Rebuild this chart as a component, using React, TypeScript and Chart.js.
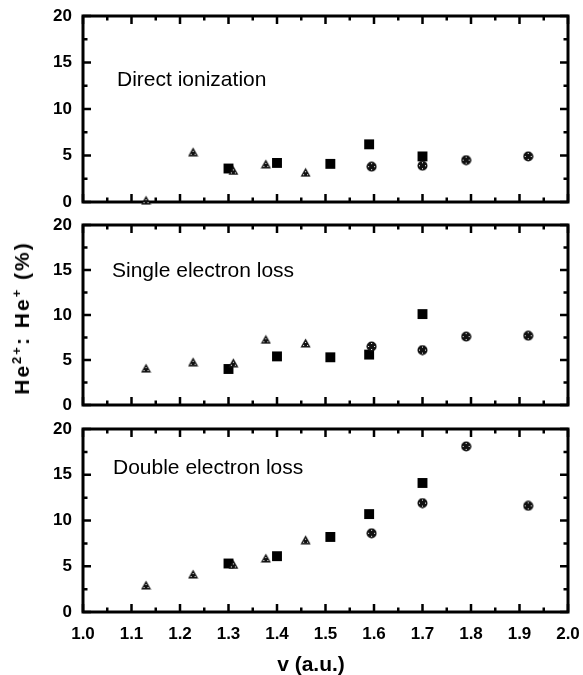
import React, { useEffect, useRef } from "react";
import { Chart, registerables } from "chart.js";

Chart.register(...registerables);

// ---- data ----
const panelTitles = ["Direct ionization", "Single electron loss", "Double electron loss"];

const xTickValues = [1.0, 1.1, 1.2, 1.3, 1.4, 1.5, 1.6, 1.7, 1.8, 1.9, 2.0];
const xTickLabels = ["1.0", "1.1", "1.2", "1.3", "1.4", "1.5", "1.6", "1.7", "1.8", "1.9", "2.0"];
const yTickValues = [0, 5, 10, 15, 20];
const yTickLabels = ["0", "5", "10", "15", "20"];

const squareX = [1.3, 1.4, 1.51, 1.59, 1.7];
const circleX = [1.595, 1.7, 1.79, 1.918];
const triangleX = [1.13, 1.227, 1.31, 1.377, 1.459];

const directSquares = [3.6, 4.2, 4.1, 6.2, 4.9];
const directCircles = [3.8, 3.9, 4.5, 4.9];
const directTriangles = [0.2, 5.4, 3.4, 4.1, 3.2];

const singleSquares = [4.0, 5.4, 5.3, 5.6, 10.1];
const singleCircles = [6.5, 6.1, 7.6, 7.7];
const singleTriangles = [4.1, 4.8, 4.7, 7.3, 6.9];

const doubleSquares = [5.3, 6.1, 8.2, 10.7, 14.1];
const doubleCircles = [8.6, 11.9, 18.1, 11.6];
const doubleTriangles = [2.95, 4.15, 5.2, 5.9, 7.9];

const panelSquares = [directSquares, singleSquares, doubleSquares];
const panelCircles = [directCircles, singleCircles, doubleCircles];
const panelTriangles = [directTriangles, singleTriangles, doubleTriangles];

// ---- layout (styles) ----
const FONT = "'Liberation Sans', Arial, sans-serif";
const W = 583;
const panelLayout = [
  { top: 0, height: 215, padTop: 16, padBottom: 13, showX: false, labelDx: 34, labelDy: 64 },
  { top: 210, height: 210, padTop: 15, padBottom: 15, showX: false, labelDx: 29, labelDy: 46 },
  { top: 415, height: 260, padTop: 14, padBottom: 0, showX: true, labelDx: 30, labelDy: 39 },
];

function makeTriangle(): HTMLCanvasElement {
  const c = document.createElement("canvas");
  c.width = 11;
  c.height = 10;
  const g = c.getContext("2d")!;
  g.fillStyle = "#111";
  g.beginPath();
  g.moveTo(5.5, 0.5);
  g.lineTo(10.5, 9.5);
  g.lineTo(0.5, 9.5);
  g.closePath();
  g.fill();
  g.fillStyle = "#fff";
  g.fillRect(5, 4, 1, 1);
  g.fillRect(3, 7, 1, 1);
  g.fillRect(7, 7, 1, 1);
  return c;
}

function makeCircle(): HTMLCanvasElement {
  const c = document.createElement("canvas");
  c.width = 11;
  c.height = 11;
  const g = c.getContext("2d")!;
  g.fillStyle = "#111";
  g.beginPath();
  g.arc(5.5, 5.5, 5, 0, Math.PI * 2);
  g.fill();
  g.fillStyle = "#fff";
  g.fillRect(5, 2, 1, 1);
  g.fillRect(2, 5, 1, 1);
  g.fillRect(8, 5, 1, 1);
  g.fillRect(5, 8, 1, 1);
  return c;
}

const framePlugin = {
  id: "frameTicks",
  beforeDatasetsDraw(chart: any) {
    const { ctx, chartArea } = chart;
    const xs = chart.scales.x;
    const ys = chart.scales.y;
    const { left, right, top, bottom } = chartArea;
    ctx.save();
    ctx.strokeStyle = "#000";
    ctx.lineWidth = 2.5;
    const major = 8;
    const minor = 4.5;
    const drawX = (px: number, len: number) => {
      ctx.beginPath();
      ctx.moveTo(px, bottom);
      ctx.lineTo(px, bottom - len);
      ctx.moveTo(px, top);
      ctx.lineTo(px, top + len);
      ctx.stroke();
    };
    xTickValues.forEach((v, i) => {
      drawX(xs.getPixelForValue(v), major);
      if (i < xTickValues.length - 1) {
        drawX(xs.getPixelForValue((v + xTickValues[i + 1]) / 2), minor);
      }
    });
    const drawY = (py: number, len: number) => {
      ctx.beginPath();
      ctx.moveTo(left, py);
      ctx.lineTo(left + len, py);
      ctx.moveTo(right, py);
      ctx.lineTo(right - len, py);
      ctx.stroke();
    };
    yTickValues.forEach((v, i) => {
      drawY(ys.getPixelForValue(v), major);
      if (i < yTickValues.length - 1) {
        drawY(ys.getPixelForValue((v + yTickValues[i + 1]) / 2), minor);
      }
    });
    ctx.lineWidth = 3;
    ctx.strokeRect(left, top, right - left, bottom - top);
    ctx.restore();
  },
  afterDraw(chart: any) {
    const o = chart.options.plugins.frameTicks;
    if (!o) return;
    const { ctx, chartArea } = chart;
    ctx.save();
    ctx.fillStyle = "#000";
    ctx.font = `21px ${FONT}`;
    ctx.textBaseline = "middle";
    ctx.textAlign = "left";
    ctx.fillText(o.label, chartArea.left + o.dx, chartArea.top + o.dy);
    ctx.restore();
  },
};

function Panel({ index }: { index: number }) {
  const ref = useRef<HTMLCanvasElement>(null);
  const lay = panelLayout[index];
  useEffect(() => {
    const canvas = ref.current!;
    const tri = makeTriangle();
    const circ = makeCircle();
    const toPts = (xs: number[], ys: number[]) => xs.map((x, i) => ({ x, y: ys[i] }));
    const chart = new Chart(canvas, {
      type: "scatter",
      data: {
        datasets: [
          {
            data: toPts(triangleX, panelTriangles[index]),
            pointStyle: tri as any,
            clip: false as any,
          },
          {
            data: toPts(circleX, panelCircles[index]),
            pointStyle: circ as any,
            clip: false as any,
          },
          {
            data: toPts(squareX, panelSquares[index]),
            pointStyle: "rect",
            pointRadius: 7,
            backgroundColor: "#000",
            borderColor: "#000",
            borderWidth: 0,
            clip: false as any,
          },
        ],
      },
      options: {
        responsive: false,
        animation: false,
        events: [],
        layout: { padding: { top: lay.padTop, bottom: lay.padBottom, left: 0, right: W - 568 } },
        plugins: {
          legend: { display: false },
          tooltip: { enabled: false },
          frameTicks: { label: panelTitles[index], dx: lay.labelDx, dy: lay.labelDy },
        } as any,
        scales: {
          x: {
            type: "linear",
            min: 1,
            max: 2,
            display: lay.showX,
            afterBuildTicks: (s: any) => {
              s.ticks = xTickValues.map((v) => ({ value: v }));
            },
            afterFit: (s: any) => {
              s.height = lay.showX ? 63 : 0;
              s.paddingLeft = 0;
              s.paddingRight = 0;
            },
            grid: { display: false, drawTicks: false },
            border: { display: false },
            ticks: {
              padding: 12,
              color: "#000",
              font: { family: FONT, size: 17, weight: "bold" },
              maxRotation: 0,
              autoSkip: false,
              callback: (_v: any, i: number) => xTickLabels[i],
            },
          },
          y: {
            type: "linear",
            min: 0,
            max: 20,
            afterBuildTicks: (s: any) => {
              s.ticks = yTickValues.map((v) => ({ value: v }));
            },
            afterFit: (s: any) => {
              s.width = 83;
              s.paddingTop = 0;
              s.paddingBottom = 0;
            },
            grid: { display: false, drawTicks: false },
            border: { display: false },
            ticks: {
              padding: 11,
              color: "#000",
              font: { family: FONT, size: 17, weight: "bold" },
              autoSkip: false,
              callback: (_v: any, i: number) => yTickLabels[i],
            },
          },
        },
      },
      plugins: [framePlugin as any],
    });
    return () => chart.destroy();
  }, [index]);
  return (
    <canvas
      ref={ref}
      width={W}
      height={lay.height}
      style={{ position: "absolute", left: 0, top: lay.top, width: W, height: lay.height }}
    />
  );
}

export default function App() {
  return (
    <div
      style={{
        position: "absolute",
        left: 0,
        top: 0,
        width: W,
        height: 675,
        background: "#fff",
        overflow: "hidden",
        fontFamily: FONT,
      }}
    >
      {[0, 1, 2].map((i) => (
        <Panel key={i} index={i} />
      ))}
      <div
        style={{
          position: "absolute",
          left: 22,
          top: 318,
          transform: "translate(-50%, -50%) rotate(-90deg)",
          whiteSpace: "nowrap",
          fontWeight: "bold",
          fontSize: 21,
          letterSpacing: 2,
          lineHeight: "22px",
          color: "#000",
        }}
      >
        He<sup style={{ fontSize: 13, verticalAlign: "8px", lineHeight: 0 }}>2+</sup>: He
        <sup style={{ fontSize: 13, verticalAlign: "8px", lineHeight: 0 }}>+</sup> (%)
      </div>
      <div
        style={{
          position: "absolute",
          left: 311,
          top: 664,
          transform: "translate(-50%, -50%)",
          whiteSpace: "nowrap",
          fontWeight: "bold",
          fontSize: 21,
          lineHeight: "24px",
          color: "#000",
        }}
      >
        v (a.u.)
      </div>
    </div>
  );
}
